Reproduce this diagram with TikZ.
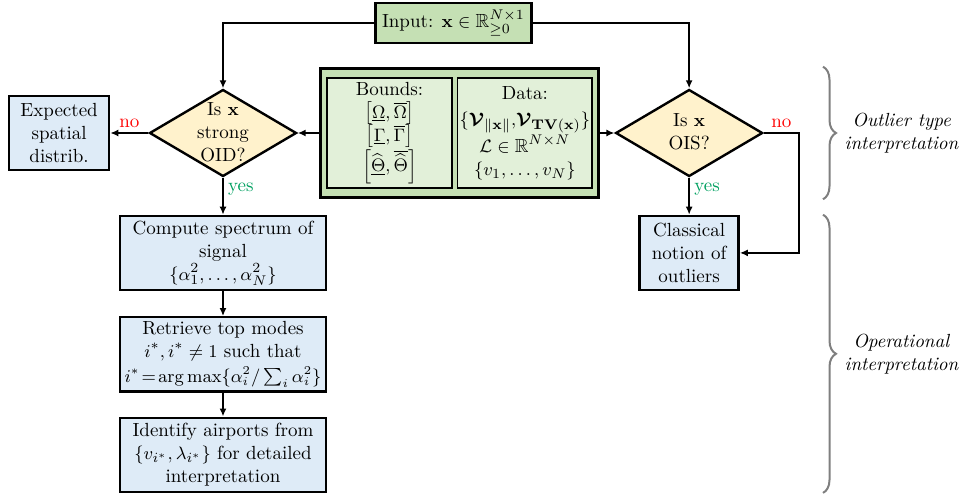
\documentclass[tikz,border=0pt]{standalone}
\usepackage{amsmath,amssymb,bm}
\usepackage{xcolor}
\usepackage{tikz}
\usetikzlibrary{arrows.meta, positioning, fit, backgrounds, decorations.pathreplacing, shapes.geometric}

\definecolor{ingreen}{HTML}{C5E0B4}
\definecolor{palegreen}{HTML}{E2F0D9}
\definecolor{decfill}{HTML}{FFF2CC}
\definecolor{procblue}{HTML}{DEEBF7}
\definecolor{yesgreen}{HTML}{00A060}
\definecolor{bracegray}{HTML}{7F7F7F}

\newcommand{\qtext}[1]{\raisebox{-2.5pt}[0pt][0pt]{\begin{tabular}{@{}c@{}}#1\end{tabular}}}

\begin{document}
\begin{tikzpicture}[font=\fontsize{9.5pt}{11.5pt}\selectfont]
            % Styles
            \tikzstyle{block} = [rectangle, draw, line width=1.2pt, fill=procblue, align=center, inner xsep=2pt, inner ysep=1pt, minimum width=103pt, minimum height=37pt]
            \tikzstyle{sideblock} = [block, minimum width=50pt]
            \tikzstyle{decision} = [diamond, draw, line width=1.2pt, fill=decfill, inner sep=0pt, minimum width=73.5pt, minimum height=43.5pt]
            \tikzstyle{datablock} = [rectangle, draw, line width=0.8pt, fill=palegreen, align=center, inner sep=1pt, minimum height=55pt]
            \tikzstyle{arr} = [line width=1.2pt, -{Latex[length=4pt, width=3.5pt]}]
            \tikzstyle{nolabel} = [text=red, inner sep=2pt]
            \tikzstyle{yeslabel} = [text=yesgreen, inner sep=2pt]
            \tikzstyle{interp} = [decorate, decoration={brace, amplitude=6.5pt}, line width=1pt, bracegray]

            \useasboundingbox (0,0) rectangle (482pt,-248.5pt);

            % Input
            \node[rectangle, draw, line width=1.2pt, fill=ingreen, minimum width=74.5pt, minimum height=19pt] (input) at (226.75pt,-11.5pt) {Input: $\mathbf{x}\in\mathbb{R}^{N\times 1}_{\geq 0}$};

            % Bounds and data
            \node[datablock, minimum width=62.5pt] (bounds) at (194.75pt,-66.5pt) {Bounds:\\ $\left[\underline{\Omega},\overline{\Omega}\right]$\\ $\left[\underline{\Gamma},\overline{\Gamma}\right]$\\ $\left[\underline{\widehat{\Theta}},\overline{\widehat{\Theta}}\right]$};
            \node[datablock, minimum width=64pt, right=2pt of bounds] (data) {Data:\\[1.5pt] $\{\bm{\mathcal{V}}_{\|\mathbf{x}\|},\!\bm{\mathcal{V}}_{\mathbf{TV(x)}}\}$\\ $\mathcal{L}\in\mathbb{R}^{N\times N}$\\ $\{v_1,\dots,v_N\}$};
            \begin{scope}[on background layer]
                \node[draw, line width=1.5pt, fill=ingreen, inner xsep=3pt, inner ysep=4.5pt, fit=(bounds)(data)] (ctx) {};
            \end{scope}

            % Decisions
            \node[decision, left=10.5pt of ctx] (strongoid) {\qtext{Is $\mathbf{x}$\\ strong\\ OID?}};
            \node[decision, right=7pt of ctx] (ois) {\qtext{Is $\mathbf{x}$\\ OIS?}};

            % Outcomes
            \node[sideblock, left=19pt of strongoid] (expected) {Expected\\ spatial\\ distrib.};
            \node[block, below=18.5pt of strongoid] (spectrum) {Compute spectrum of\\ signal\\ $\{\alpha_1^2,\dots,\alpha_N^2\}$};
            \node[block, below=12.5pt of spectrum] (topmodes) {Retrieve top modes\\ $i^*, i^*\neq 1$ such that\\[1pt] {\fontsize{8.8pt}{11pt}\selectfont$i^*\!=\!\arg\max\{\alpha_i^2/\textstyle\sum_i\alpha_i^2\}$}};
            \node[block, below=12pt of topmodes] (airports) {Identify airports from\\ $\{v_{i^*},\lambda_{i^*}\}$ for detailed\\ interpretation};
            \node[sideblock, minimum width=49.5pt, below=18.5pt of ois] (classical) {Classical\\ notion of\\ outliers};

            % Connections
            \draw[arr] (input.west) -| (strongoid.north);
            \draw[arr] (input.east) -| (ois.north);
            \draw[arr] (ctx.west) -- (strongoid.east);
            \draw[arr] (ctx.east) -- (ois.west);
            \draw[arr] (strongoid.west) -- node[midway, above, nolabel] {no} (expected.east);
            \draw[arr] (strongoid.south) -- node[pos=0.3, right, yeslabel] {yes} (spectrum.north);
            \draw[arr] (spectrum) -- (topmodes);
            \draw[arr] (topmodes) -- (airports);
            \draw[arr] (ois.south) -- node[pos=0.3, right, yeslabel] {yes} (classical.north);
            \draw[arr] (ois.east) -- ++(17.5pt,0) node[midway, above, nolabel] {no} |- (classical.east);

            % Interpretation braces
            \coordinate (bx) at (411.5pt,0);
            \draw[interp] (bx |- ctx.north) -- (bx |- ctx.south)
                node[midway, right=7pt, align=center, text=black] {\textit{Outlier type}\\ \textit{interpretation}};
            \draw[interp] (bx |- classical.north) -- (bx |- airports.south)
                node[midway, right=7pt, align=center, text=black] {\textit{Operational}\\ \textit{interpretation}};
        \end{tikzpicture}
\end{document}
